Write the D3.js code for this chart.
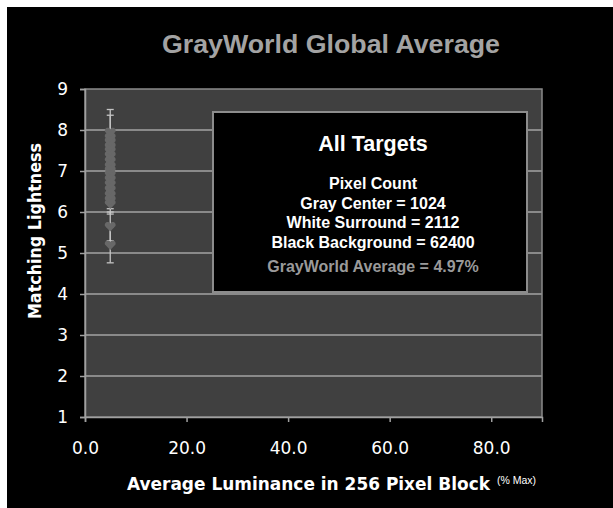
<!DOCTYPE html>
<html>
<head>
<meta charset="utf-8">
<script src="https://cdn.jsdelivr.net/npm/d3@7"></script>
<style>
  html, body { margin: 0; padding: 0; background: #ffffff; }
  svg { display: block; }
</style>
</head>
<body>
<svg id="chart" width="613" height="508"></svg>
<script>
// Matching-lightness judgements for every target, plotted at the gray-world average luminance
const grayWorldAverage = 4.97;
const lightness = [5.20, 5.65, 6.20, 6.30, 6.42, 6.55, 6.68, 6.80, 6.92, 7.02, 7.12, 7.25, 7.38, 7.50, 7.60, 7.72, 7.82, 7.95];
const errors    = [0.44, 0.35, 0.25, 0.22, 0.20, 0.20, 0.22, 0.20, 0.22, 0.20, 0.22, 0.20, 0.22, 0.24, 0.20, 0.22, 0.54, 0.55];
const xTicks = [0, 20, 40, 60, 80];
const yTicks = [1, 2, 3, 4, 5, 6, 7, 8, 9];
const noteLines = ["Gray Center = 1024", "White Surround = 2112", "Black Background = 62400"];

const svg = d3.select("#chart");
const plot = { left: 85, right: 542, top: 89, bottom: 417 };

const x = d3.scaleLinear().domain([0, 90]).range([plot.left, plot.right]);
const y = d3.scaleLinear().domain([1, 9]).range([plot.bottom, plot.top]);

// black backdrop
svg.append("rect").attr("x", 7).attr("y", 7).attr("width", 606).attr("height", 501).attr("fill", "#000");

// title
svg.append("text")
  .attr("x", 331).attr("y", 53)
  .attr("text-anchor", "middle")
  .attr("font-family", "'Liberation Sans', Arial, sans-serif")
  .attr("font-weight", "bold")
  .attr("font-size", 25)
  .attr("textLength", 338).attr("lengthAdjust", "spacingAndGlyphs")
  .attr("fill", "#a3a3a3")
  .text("GrayWorld Global Average");

// plot area
svg.append("rect")
  .attr("x", plot.left).attr("y", plot.top)
  .attr("width", plot.right - plot.left).attr("height", plot.bottom - plot.top)
  .attr("fill", "#404040");

// horizontal gridlines
svg.append("g").selectAll("line")
  .data(yTicks.filter(d => d > 1 && d < 9))
  .join("line")
  .attr("x1", plot.left).attr("x2", plot.right)
  .attr("y1", d => y(d)).attr("y2", d => y(d))
  .attr("stroke", "#d4d4d4").attr("stroke-width", 1.2);

// plot frame
svg.append("rect")
  .attr("x", plot.left).attr("y", plot.top)
  .attr("width", plot.right - plot.left).attr("height", plot.bottom - plot.top)
  .attr("fill", "none").attr("stroke", "#8a8a8a").attr("stroke-width", 1.5);

// axes
const tickFont = "'DejaVu Sans', Verdana, sans-serif";
const yAxis = svg.append("g")
  .attr("transform", `translate(${plot.left},0)`)
  .call(d3.axisLeft(y).tickValues(yTicks).tickFormat(d3.format("d")).tickSize(5).tickPadding(12));
const xAxis = svg.append("g")
  .attr("transform", `translate(0,${plot.bottom})`)
  .call(d3.axisBottom(x).tickValues(xTicks).tickFormat(d3.format(".1f")).tickSize(5).tickPadding(20));
[yAxis, xAxis].forEach(g => {
  g.select(".domain").attr("stroke", "#a0a0a0").attr("stroke-width", 1.5);
  g.selectAll(".tick line").attr("stroke", "#a0a0a0").attr("stroke-width", 1.5);
  g.selectAll(".tick text")
    .attr("fill", "#ffffff")
    .attr("font-family", tickFont)
    .attr("font-size", 17);
});

// axis titles
svg.append("text")
  .attr("transform", "translate(41,231) rotate(-90)")
  .attr("text-anchor", "middle")
  .attr("font-family", tickFont)
  .attr("font-weight", "bold")
  .attr("font-size", 17)
  .attr("textLength", 176).attr("lengthAdjust", "spacingAndGlyphs")
  .attr("fill", "#ffffff")
  .text("Matching Lightness");

svg.append("text")
  .attr("x", 127).attr("y", 490)
  .attr("font-family", tickFont)
  .attr("font-weight", "bold")
  .attr("font-size", 17)
  .attr("textLength", 363).attr("lengthAdjust", "spacingAndGlyphs")
  .attr("fill", "#ffffff")
  .text("Average Luminance in 256 Pixel Block");

svg.append("text")
  .attr("x", 497).attr("y", 484)
  .attr("font-family", "'Liberation Sans', Arial, sans-serif")
  .attr("font-size", 10.5)
  .attr("fill", "#ffffff")
  .text("(% Max)");

// error bars (drawn first so the markers sit on top)
const capHalf = 3.5;
const bars = svg.append("g").attr("stroke", "#c4c4c4").attr("stroke-width", 1.3);
lightness.forEach((v, i) => {
  const cx = x(grayWorldAverage);
  bars.append("line").attr("x1", cx).attr("x2", cx).attr("y1", y(v - errors[i])).attr("y2", y(v + errors[i]));
  [v - errors[i], v + errors[i]].forEach(e => {
    bars.append("line").attr("x1", cx - capHalf).attr("x2", cx + capHalf).attr("y1", y(e)).attr("y2", y(e));
  });
});

// heart-shaped markers
const heart = {
  draw(ctx, size) {
    const s = Math.sqrt(size) / 2;
    ctx.moveTo(0, s);
    ctx.lineTo(-s, -s * 0.05);
    ctx.bezierCurveTo(-s * 1.2, -s * 0.7, -s * 0.45, -s * 1.15, 0, -s * 0.55);
    ctx.bezierCurveTo(s * 0.45, -s * 1.15, s * 1.2, -s * 0.7, s, -s * 0.05);
    ctx.closePath();
  }
};
svg.append("g").selectAll("path")
  .data(lightness)
  .join("path")
  .attr("transform", d => `translate(${x(grayWorldAverage)},${y(d)})`)
  .attr("d", d3.symbol().type(heart).size(110))
  .attr("fill", "#686868");

// annotation box
const box = { x: 213, y: 112, w: 314, h: 180 };
svg.append("rect")
  .attr("x", box.x).attr("y", box.y).attr("width", box.w).attr("height", box.h)
  .attr("fill", "#000").attr("stroke", "#8c8c8c").attr("stroke-width", 2);

const boxFont = "'Liberation Sans', Arial, sans-serif";
const cx = box.x + box.w / 2 + 3;
svg.append("text")
  .attr("x", cx).attr("y", 151)
  .attr("text-anchor", "middle").attr("font-family", boxFont).attr("font-weight", "bold")
  .attr("font-size", 21.5).attr("fill", "#fff")
  .text("All Targets");
svg.append("text")
  .attr("x", cx).attr("y", 189)
  .attr("text-anchor", "middle").attr("font-family", boxFont).attr("font-weight", "bold")
  .attr("font-size", 16).attr("fill", "#fff")
  .text("Pixel Count");
noteLines.forEach((t, i) => {
  svg.append("text")
    .attr("x", cx).attr("y", 208.5 + i * 19.5)
    .attr("text-anchor", "middle").attr("font-family", boxFont).attr("font-weight", "bold")
    .attr("font-size", 16).attr("fill", "#fff")
    .text(t);
});
svg.append("text")
  .attr("x", cx).attr("y", 272)
  .attr("text-anchor", "middle").attr("font-family", boxFont).attr("font-weight", "bold")
  .attr("font-size", 16).attr("fill", "#9a9a9a")
  .text(`GrayWorld Average = ${grayWorldAverage}%`);
</script>
</body>
</html>
